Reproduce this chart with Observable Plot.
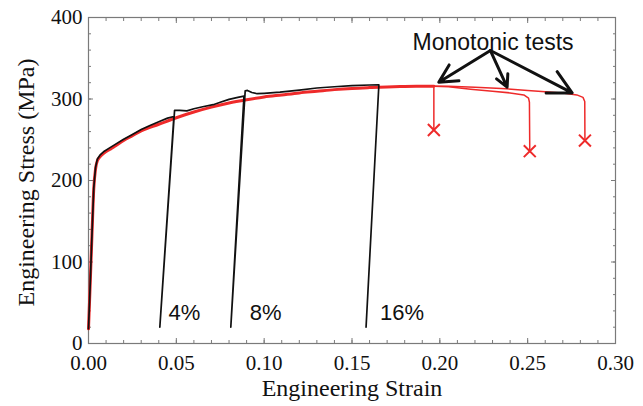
<!DOCTYPE html>
<html>
<head>
<meta charset="utf-8">
<script src="https://cdn.jsdelivr.net/npm/d3@7"></script>
<script src="https://cdn.jsdelivr.net/npm/@observablehq/plot@0.6"></script>
<style>
  html, body { margin: 0; padding: 0; background: #fff; }
  #chart { width: 643px; height: 406px; }
</style>
</head>
<body>
<div id="chart"></div>
<script>
// ---- Data ----
const xTitle = "Engineering Strain";
const yTitle = "Engineering Stress (MPa)";
const xMajorTicks = [0, 0.05, 0.10, 0.15, 0.20, 0.25, 0.30];
const xMinorTicks = [0, 0.01, 0.02, 0.03, 0.04, 0.05, 0.06, 0.07, 0.08, 0.09, 0.10, 0.11, 0.12, 0.13, 0.14, 0.15, 0.16, 0.17, 0.18, 0.19, 0.20, 0.21, 0.22, 0.23, 0.24, 0.25, 0.26, 0.27, 0.28, 0.29, 0.30];
const yMajorTicks = [0, 100, 200, 300, 400];
const yMinorTicks = [0, 20, 40, 60, 80, 100, 120, 140, 160, 180, 200, 220, 240, 260, 280, 300, 320, 340, 360, 380, 400];

// shared monotonic curve (all three red tests overlap here)
const redBaseStrain = [0, 0.001, 0.002, 0.003, 0.004, 0.005, 0.0065, 0.009, 0.012, 0.015, 0.02, 0.025, 0.03, 0.04, 0.05, 0.06, 0.07, 0.08, 0.09, 0.10, 0.11, 0.12, 0.13, 0.14, 0.15, 0.16, 0.17, 0.18, 0.19, 0.1966];
const redBaseStress = [18, 75, 135, 190, 214, 224, 229, 234, 238, 242, 249, 255, 261, 269, 277, 284, 290, 295, 299, 302.5, 305, 307.5, 309.5, 311.5, 313, 314, 314.8, 315.3, 315.6, 315.7];
// tails of each monotonic test after the shared part
const test1TailStrain = [0.1966, 0.1966];
const test1TailStress = [315.7, 262];
const test2TailStrain = [0.1966, 0.205, 0.2175, 0.23, 0.24, 0.2478, 0.2505, 0.251, 0.2512];
const test2TailStress = [315.7, 315, 312, 309.5, 307.5, 305, 301, 296, 236];
const test3TailStrain = [0.1966, 0.205, 0.22, 0.235, 0.25, 0.262, 0.271, 0.278, 0.2815, 0.2825, 0.2826];
const test3TailStress = [315.7, 315.6, 314.5, 313, 310.5, 308.5, 307, 305, 302, 297, 249];
// fracture points
const fractureStrain = [0.1966, 0.2512, 0.2826];
const fractureStress = [262, 236, 249];

// prestrain test (black): load, unload at 4%, reload, unload at 8%, reload, unload at 16%
const blackStrain = [0, 0.001, 0.002, 0.003, 0.004, 0.005, 0.0065, 0.009, 0.012, 0.015, 0.02, 0.025, 0.03, 0.035, 0.04, 0.045, 0.0486, 0.0406, 0.049, 0.052, 0.056, 0.06, 0.065, 0.071, 0.075, 0.08, 0.085, 0.0885, 0.081, 0.0892, 0.0905, 0.093, 0.096, 0.10, 0.109, 0.12, 0.13, 0.14, 0.15, 0.16, 0.1653, 0.158];
const blackStress = [18, 75, 135, 191, 216, 226, 231, 236, 240, 244, 250.5, 256.5, 262.5, 267.5, 272, 276.5, 278.5, 20, 286, 286, 285.5, 288, 290.5, 293, 296, 299.5, 302, 303.5, 20, 310, 310.5, 308, 306.5, 307, 308.5, 311, 313.5, 315, 316.3, 317.2, 317.5, 20];

// annotations
const prestrainLabels = ["4%", "8%", "16%"];
const prestrainLabelStrain = [0.0455, 0.0918, 0.166];
const prestrainLabelStress = [37, 37, 37];
const noteText = "Monotonic tests";
const noteStrain = 0.2303;
const noteStress = 369.5;
const arrowFromStrain = [0.2288, 0.2288, 0.2288];
const arrowFromStress = [359.5, 359.5, 359.5];
const arrowToStrain = [0.1994, 0.2383, 0.2753];
const arrowToStress = [320.5, 314.5, 307.5];

// ---- Build tables ----
const zip = (xs, ys) => xs.map((x, i) => ({x, y: ys[i]}));
const redBase = zip(redBaseStrain, redBaseStress);
const tails = [
  zip(test1TailStrain, test1TailStress),
  zip(test2TailStrain, test2TailStress),
  zip(test3TailStrain, test3TailStress)
];
const fractures = zip(fractureStrain, fractureStress);
const black = zip(blackStrain, blackStress);
const labels = prestrainLabels.map((t, i) => ({t, x: prestrainLabelStrain[i], y: prestrainLabelStress[i]}));
const arrows = arrowToStrain.map((x2, i) => ({x1: arrowFromStrain[i], y1: arrowFromStress[i], x2, y2: arrowToStress[i]}));

const RED = "#ee2a2a";
const GRAY = "#7a7a7a";
const SERIF = "'Liberation Serif', 'Times New Roman', serif";
const SANS = "'Liberation Sans', Arial, sans-serif";

const chart = Plot.plot({
  width: 643,
  height: 406,
  marginLeft: 88,
  marginRight: 28,
  marginTop: 17,
  marginBottom: 63,
  style: {fontFamily: SERIF, fontSize: "21px", background: "#fff", color: "#000", overflow: "visible"},
  x: {domain: [0, 0.30]},
  y: {domain: [0, 400]},
  marks: [
    // inward ticks: bottom/top minor + major, left/right minor + major
    Plot.axisX({anchor: "bottom", ticks: xMinorTicks, tickSize: 3, dy: -3, fill: "none", stroke: GRAY, label: null}),
    Plot.axisX({anchor: "bottom", ticks: xMajorTicks, tickSize: 5, dy: -5, fill: "none", stroke: GRAY, label: null}),
    Plot.axisX({anchor: "top", ticks: xMinorTicks, tickSize: 3, dy: 3, fill: "none", stroke: GRAY, label: null}),
    Plot.axisX({anchor: "top", ticks: xMajorTicks, tickSize: 5, dy: 5, fill: "none", stroke: GRAY, label: null}),
    Plot.axisY({anchor: "left", ticks: yMinorTicks, tickSize: 3, dx: 3, fill: "none", stroke: GRAY, label: null}),
    Plot.axisY({anchor: "left", ticks: yMajorTicks, tickSize: 5, dx: 5, fill: "none", stroke: GRAY, label: null}),
    Plot.axisY({anchor: "right", ticks: yMinorTicks, tickSize: 3, dx: -3, fill: "none", stroke: GRAY, label: null}),
    Plot.axisY({anchor: "right", ticks: yMajorTicks, tickSize: 5, dx: -5, fill: "none", stroke: GRAY, label: null}),
    // tick labels
    Plot.axisX({anchor: "bottom", ticks: xMajorTicks, tickSize: 0, tickPadding: 12, tickFormat: d3.format(".2f"), fontSize: 21, fontFamily: SERIF, fill: "#111", label: null}),
    Plot.axisY({anchor: "left", ticks: yMajorTicks, tickSize: 0, tickPadding: 6, tickFormat: d3.format("d"), fontSize: 21, fontFamily: SERIF, fill: "#111", label: null}),
    Plot.frame({stroke: GRAY, strokeWidth: 1.2}),
    // axis titles
    Plot.text([xTitle], {frameAnchor: "bottom", dy: 45, lineAnchor: "middle", textAnchor: "middle", text: d => d, fontSize: 24, fontFamily: SERIF, fill: "#111"}),
    Plot.text([yTitle], {frameAnchor: "left", dx: -62, dy: 2, rotate: -90, lineAnchor: "middle", textAnchor: "middle", text: d => d, fontSize: 24, fontFamily: SERIF, fill: "#111"}),
    // monotonic tests (red)
    ...tails.map(t => Plot.line(t, {x: "x", y: "y", stroke: RED, strokeWidth: 1.5})),
    Plot.line(redBase, {x: "x", y: "y", stroke: RED, strokeWidth: 3, curve: "monotone-x"}),
    Plot.dot(fractures, {x: "x", y: "y", symbol: "times", r: 5.5, stroke: RED, strokeWidth: 2}),
    // prestrain test (black)
    Plot.line(black, {x: "x", y: "y", stroke: "#111", strokeWidth: 1.7, curve: "linear"}),
    // annotations
    Plot.text(labels, {x: "x", y: "y", text: "t", textAnchor: "start", fontSize: 22, fontFamily: SANS, fill: "#111"}),
    Plot.text([noteText], {x: () => noteStrain, y: () => noteStress, text: d => d, fontSize: 23, fontFamily: SANS, fill: "#111"}),
    Plot.arrow(arrows, {x1: "x1", y1: "y1", x2: "x2", y2: "y2", stroke: "#111", strokeWidth: 3, headLength: 13, headAngle: 55})
  ]
});
document.getElementById("chart").appendChild(chart);
</script>
</body>
</html>
